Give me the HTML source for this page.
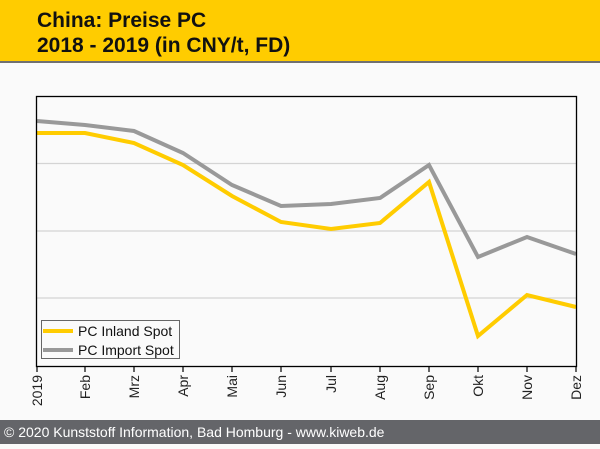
<!DOCTYPE html>
<html><head><style>
body{margin:0;width:600px;height:444px;overflow:hidden;background:#fafafa;font-family:"Liberation Sans",sans-serif;}
</style></head><body>
<svg width="600" height="444" xmlns="http://www.w3.org/2000/svg" font-family="Liberation Sans, sans-serif">
<rect x="0" y="0" width="600" height="444" fill="#fafafa"/>
<rect x="0" y="0" width="600" height="61" fill="#ffcc00"/>
<rect x="0" y="61" width="600" height="2" fill="#707070"/>
<text x="37" y="27" font-size="21" font-weight="bold" fill="#111">China: Preise PC</text>
<text x="37" y="52" font-size="21" font-weight="bold" fill="#111">2018 - 2019 (in CNY/t, FD)</text>
<g stroke="#d4d4d4" stroke-width="1.2">
<line x1="37" y1="163.5" x2="576" y2="163.5"/>
<line x1="37" y1="231" x2="576" y2="231"/>
<line x1="37" y1="298" x2="576" y2="298"/>
</g>
<polyline fill="none" stroke="#999" stroke-width="4" points="37,121 85,125 134,131 183,153 232,185 281,206 331,204 380,198 429,165 478,257 527,237 576,254"/>
<polyline fill="none" stroke="#ffcc00" stroke-width="4" points="37,133 85,133 134,143 183,165 232,196 281,222 331,229 380,223 429,182 478,336 527,295 576,307"/>
<rect x="36.5" y="96.5" width="540" height="270" fill="none" stroke="#000" stroke-width="1.3"/>
<g stroke="#000" stroke-width="1.2">
<line x1="37" y1="366" x2="37" y2="372"/><line x1="85" y1="366" x2="85" y2="372"/><line x1="134" y1="366" x2="134" y2="372"/><line x1="183" y1="366" x2="183" y2="372"/><line x1="232" y1="366" x2="232" y2="372"/><line x1="281" y1="366" x2="281" y2="372"/><line x1="331" y1="366" x2="331" y2="372"/><line x1="380" y1="366" x2="380" y2="372"/><line x1="429" y1="366" x2="429" y2="372"/><line x1="478" y1="366" x2="478" y2="372"/><line x1="527" y1="366" x2="527" y2="372"/><line x1="576" y1="366" x2="576" y2="372"/>
</g>
<g font-size="14" fill="#222" text-anchor="end">
<text transform="translate(42,375) rotate(-90)">2019</text>
<text transform="translate(90,375) rotate(-90)">Feb</text>
<text transform="translate(139,375) rotate(-90)">Mrz</text>
<text transform="translate(188,375) rotate(-90)">Apr</text>
<text transform="translate(237,375) rotate(-90)">Mai</text>
<text transform="translate(286,375) rotate(-90)">Jun</text>
<text transform="translate(336,375) rotate(-90)">Jul</text>
<text transform="translate(385,375) rotate(-90)">Aug</text>
<text transform="translate(434,375) rotate(-90)">Sep</text>
<text transform="translate(483,375) rotate(-90)">Okt</text>
<text transform="translate(532,375) rotate(-90)">Nov</text>
<text transform="translate(581,375) rotate(-90)">Dez</text>
</g>
<rect x="41.5" y="320.5" width="138" height="38" fill="#fafafa" stroke="#666" stroke-width="1"/>
<line x1="43" y1="331" x2="73" y2="331" stroke="#ffcc00" stroke-width="4"/>
<line x1="43" y1="350" x2="73" y2="350" stroke="#999" stroke-width="4"/>
<text x="78" y="336" font-size="14" fill="#111">PC Inland Spot</text>
<text x="78" y="355" font-size="14" fill="#111">PC Import Spot</text>
<rect x="0" y="420" width="600" height="24" fill="#646569"/>
<text x="4" y="437" font-size="14" fill="#fff">© 2020 Kunststoff Information, Bad Homburg - www.kiweb.de</text>
</svg>
</body></html>
